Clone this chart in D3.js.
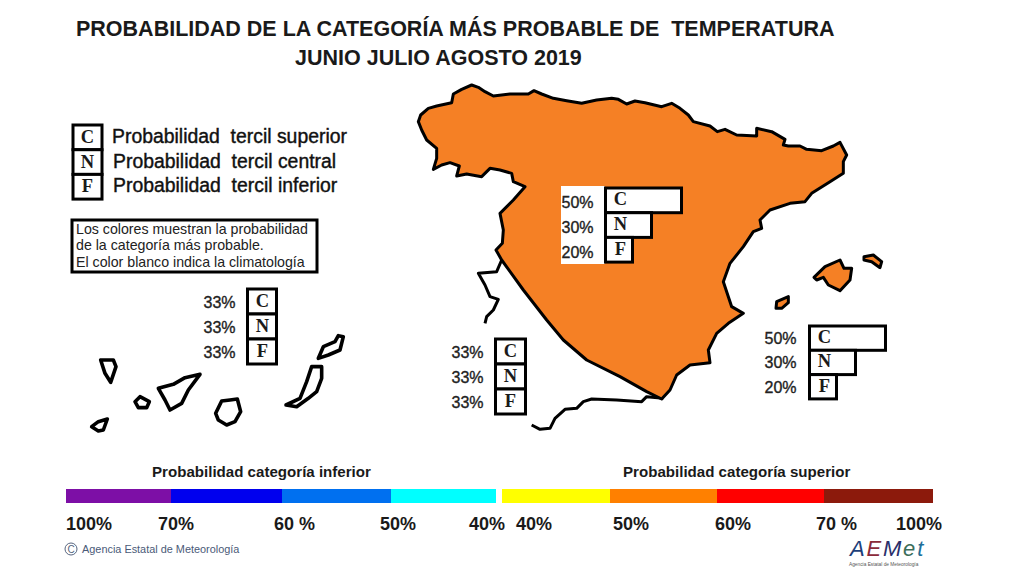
<!DOCTYPE html>
<head>
<meta charset="utf-8">
<style>
body { margin: 0; background: #fff; }
text { font-family: "Liberation Sans", Arial, sans-serif; fill: #1a1a1a; }
.title { font-size: 21.5px; font-weight: bold; }
.legend { font-size: 19.4px; fill: #111; stroke: #111; stroke-width: .4px; }
.note { font-size: 14.2px; fill: #222; }
.pct { font-size: 16px; fill: #222; stroke: #222; stroke-width: .35px; }
.letter { font-family: "Liberation Serif", serif; font-size: 18.5px; font-weight: bold; text-anchor: middle; }
.cbhead { font-size: 15.1px; font-weight: bold; }
.cblab { font-size: 18px; font-weight: bold; }
.box { fill: #fff; stroke: #000; stroke-width: 3px; }
.coast { fill: none; stroke: #000; stroke-width: 3px; stroke-linejoin: round; }
.coast.isle { stroke-width: 3.6px; }
.land { fill: #f58025; stroke: #000; stroke-width: 3px; stroke-linejoin: round; }
</style>
</head>
<body>
<svg width="1024" height="576"></svg>
<script src="https://cdn.jsdelivr.net/npm/d3@7"></script>
<script>

var titles = ["PROBABILIDAD DE LA CATEGORÍA MÁS PROBABLE DE  TEMPERATURA", "JUNIO JULIO AGOSTO 2019"];
var letters = ["C", "N", "F"];
var legendTexts = ["Probabilidad  tercil superior", "Probabilidad  tercil central", "Probabilidad  tercil inferior"];
var noteLines = ["Los colores muestran la probabilidad", "de la categoría más probable.", "El color blanco indica la climatología"];

var probForecast = [50, 30, 20];
var probClimate = [33, 33, 33];

var lowerTicks = [100, 70, 60, 50, 40];
var lowerLabels = ["100%", "70%", "60 %", "50%", "40%"];
var lowerColors = ["#7d0fa6", "#0000ee", "#0070f0", "#00ffff"];
var upperTicks = [40, 50, 60, 70, 100];
var upperLabels = ["40%", "50%", "60%", "70 %", "100%"];
var upperColors = ["#ffff00", "#ff8000", "#ff0000", "#8c1a0c"];

// outlines, in map units
var peninsula = [[55,155],[62,135],[85,115],[110,108],[155,98],[160,72],[185,58],[215,45],[235,52],[255,65],[280,78],[330,72],[385,72],[402,62],[425,72],[460,85],[500,92],[545,100],[590,90],[635,85],[655,88],[680,102],[705,93],[735,98],[785,110],[815,100],[840,115],[865,135],[880,155],[930,168],[952,185],[975,178],[1010,195],[1070,198],[1070,175],[1115,185],[1155,208],[1150,225],[1165,228],[1200,228],[1220,238],[1265,242],[1300,228],[1320,217],[1340,255],[1330,275],[1330,310],[1290,335],[1235,370],[1215,395],[1170,400],[1110,420],[1080,450],[1085,475],[1060,485],[1030,530],[990,580],[970,635],[985,680],[995,710],[1030,730],[985,760],[950,790],[925,840],[930,878],[870,885],[830,915],[810,960],[785,987],[740,965],[660,920],[560,870],[490,810],[440,750],[370,660],[305,570],[288,540],[307,520],[310,480],[300,430],[340,390],[375,350],[340,335],[335,310],[300,300],[270,295],[245,320],[200,312],[170,318],[178,288],[150,278],[125,285],[100,298],[110,265],[110,235],[80,210],[65,180]];
var mallorca = [[1242,622],[1275,590],[1320,570],[1332,595],[1355,595],[1350,630],[1320,662],[1285,645],[1270,622],[1250,630]];
var menorca = [[1392,560],[1420,555],[1445,575],[1440,593],[1415,575],[1392,570]];
var ibiza = [[1128,715],[1130,695],[1165,680],[1165,698],[1145,715]];
var portugalSouth = [[305,570],[290,605],[235,610],[255,645],[270,680],[295,688],[280,720],[260,740],[255,760]];
var africaCoast = [[790,985],[740,980],[725,995],[650,990],[575,987],[550,995],[530,1015],[495,1018],[465,1045],[450,1075],[420,1078],[395,1065]];

var laPalma = [[92,225],[130,225],[138,245],[122,292],[105,265]];
var laGomera = [[195,350],[210,335],[238,350],[230,368],[205,368]];
var tenerife = [[265,310],[310,298],[345,278],[390,268],[355,315],[335,355],[300,375],[285,345]];
var elHierro = [[65,425],[85,410],[112,402],[100,435],[85,438]];
var granCanaria = [[437,385],[455,348],[480,345],[502,342],[512,380],[495,410],[470,420],[445,405]];
var fuerteventura = [[648,360],[690,340],[710,290],[725,245],[755,245],[755,280],[740,320],[715,340],[680,365]];
var lanzarote = [[745,220],[760,185],[795,170],[805,152],[820,155],[810,195],[775,210]];

var svg = d3.select("svg");

svg.append("g").selectAll("text").data(titles).enter().append("text")
    .attr("class", "title")
    .attr("x", function(d, i) { return i ? 295 : 76; })
    .attr("y", function(d, i) { return i ? 65 : 36; })
    .attr("xml:space", "preserve")
    .text(function(d) { return d; });

// map
var mapX = d3.scaleLinear().domain([0, 1560]).range([400, 920]),
    mapY = d3.scaleLinear().domain([0, 1050]).range([70, 420]);
var mapLine = d3.line().x(function(d) { return mapX(d[0]); }).y(function(d) { return mapY(d[1]); });

svg.selectAll(".coast.open").data([portugalSouth, africaCoast]).enter().append("path")
    .attr("class", "coast open").attr("d", mapLine);
svg.selectAll(".land").data([peninsula, mallorca, menorca, ibiza]).enter().append("path")
    .attr("class", "land").attr("d", function(d) { return mapLine(d) + "Z"; });

var canX = d3.scaleLinear().domain([0, 900]).range([70, 370]),
    canY = d3.scaleLinear().domain([0, 465]).range([285, 440]);
var canLine = d3.line().x(function(d) { return canX(d[0]); }).y(function(d) { return canY(d[1]); });
svg.selectAll(".coast.isle").data([laPalma, laGomera, tenerife, elHierro, granCanaria, fuerteventura, lanzarote]).enter().append("path")
    .attr("class", "coast isle").attr("d", function(d) { return canLine(d) + "Z"; });

// probability boxes
var barWidth = d3.scaleLinear().domain([20, 30, 50]).range([27, 46, 76]);

function probBox(x, y, rowH, values, width, labelX, labelDy) {
  var g = svg.append("g").attr("transform", "translate(" + x + "," + y + ")");
  var row = g.selectAll("g").data(values).enter().append("g")
      .attr("transform", function(d, i) { return "translate(0," + i * rowH + ")"; });
  row.append("rect").attr("class", "box")
      .attr("width", width).attr("height", rowH);
  row.append("text").attr("class", "letter")
      .attr("x", 15).attr("y", rowH / 2 + 5)
      .text(function(d, i) { return letters[i]; });
  row.append("text").attr("class", "pct")
      .attr("x", labelX).attr("y", rowH / 2 + 6 + labelDy)
      .text(function(d) { return d + "%"; });
}

svg.append("rect").attr("x", 561).attr("y", 186).attr("width", 44).attr("height", 78).attr("fill", "#fff");
probBox(605.5, 188, 24.7, probForecast, barWidth, -44, 2);
probBox(809.5, 326, 24.3, probForecast, barWidth, -45, 0);
probBox(247.5, 289, 25, probClimate, 29, -44, 0);
probBox(495.5, 339, 25, probClimate, 30, -44, 0);

// legend
var legendRow = svg.append("g").selectAll("g").data(legendTexts).enter().append("g")
    .attr("transform", function(d, i) { return "translate(73," + (125 + i * 24.7) + ")"; });
legendRow.append("rect").attr("class", "box").attr("width", 29).attr("height", 24.7);
legendRow.append("text").attr("class", "letter")
    .attr("x", 14.5).attr("y", 18).text(function(d, i) { return letters[i]; });
legendRow.append("text").attr("class", "legend")
    .attr("x", function(d, i) { return i ? 40 : 39; }).attr("y", 18)
    .attr("xml:space", "preserve")
    .text(function(d) { return d; });

svg.append("rect").attr("class", "box").attr("x", 72).attr("y", 220).attr("width", 245).attr("height", 52);
svg.append("g").selectAll("text").data(noteLines).enter().append("text")
    .attr("class", "note").attr("x", 76)
    .attr("y", function(d, i) { return 233.5 + i * 16.7; })
    .text(function(d) { return d; });

// colour bar
var lowerX = d3.scaleLinear().domain(lowerTicks).range([66, 171, 282, 391, 496]),
    upperX = d3.scaleLinear().domain(upperTicks).range([502, 610, 717, 824, 933]);

function colourBar(ticks, colours, x, labels, labelOffset) {
  var g = svg.append("g");
  g.selectAll("rect").data(colours).enter().append("rect")
      .attr("x", function(d, i) { return x(ticks[i]); })
      .attr("y", 489).attr("height", 14)
      .attr("width", function(d, i) { return x(ticks[i + 1]) - x(ticks[i]); })
      .attr("fill", function(d) { return d; });
  g.selectAll("text").data(labels).enter().append("text")
      .attr("class", "cblab")
      .attr("x", function(d, i) { return x(ticks[i]) + labelOffset[i]; })
      .attr("y", 530)
      .text(function(d) { return d; });
}
colourBar(lowerTicks, lowerColors, lowerX, lowerLabels, [0, -13, -8, -11, -27]);
colourBar(upperTicks, upperColors, upperX, upperLabels, [14, 3, -2, -8, -37]);

svg.append("text").attr("class", "cbhead").attr("x", 152).attr("y", 477).text("Probabilidad categoría inferior");
svg.append("text").attr("class", "cbhead").attr("x", 623).attr("y", 477).text("Probabilidad categoría superior");

// credit and logo
svg.append("circle").attr("cx", 71).attr("cy", 549).attr("r", 6).attr("fill", "none").attr("stroke", "#56657f");
svg.append("text").attr("x", 71).attr("y", 552.5).attr("text-anchor", "middle")
    .style("font-size", "10px").style("fill", "#56657f").text("C");
svg.append("text").attr("x", 82).attr("y", 553)
    .style("font-size", "10.9px").style("fill", "#4a5a78").text("Agencia Estatal de Meteorología");

var logo = svg.append("text").attr("x", 850).attr("y", 556)
    .style("font-style", "italic").style("font-size", "22px").style("letter-spacing", "1.8px");
[["A", "#1d3f7a"], ["E", "#8a2a3a"], ["M", "#2b2f6b"], ["e", "#3c6e5a"], ["t", "#1f6f9a"]].forEach(function(p) {
  logo.append("tspan").style("fill", p[1]).text(p[0]);
});
svg.append("text").attr("x", 849).attr("y", 566)
    .style("font-size", "4.8px").style("fill", "#555").text("Agencia Estatal de Meteorología");

</script>
</body>
